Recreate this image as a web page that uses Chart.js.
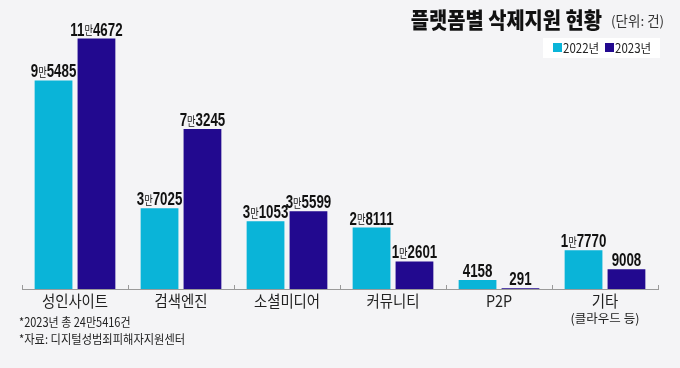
<!DOCTYPE html>
<html>
<head>
<meta charset="utf-8">
<script src="https://cdn.jsdelivr.net/npm/chart.js@4"></script>
<style>
  html, body { margin: 0; padding: 0; background: #f4f4f6; }
  #wrap { width: 680px; height: 368px; }
</style>
</head>
<body>
<div id="wrap"><canvas id="platformChart" width="680" height="368"></canvas></div>
<script>
// data
var categories = ["성인사이트", "검색엔진", "소셜미디어", "커뮤니티", "P2P", "기타"];
var subLabels = ["", "", "", "", "", "(클라우드 등)"];
var values2022 = [95485, 37025, 31053, 28111, 4158, 17770];
var values2023 = [114672, 73245, 35599, 12601, 291, 9008];
var seriesNames = ["2022년", "2023년"];
var notes = ["*2023년 총 24만5416건", "*자료: 디지털성범죄피해자지원센터"];

var CYAN = "#0ab4d8";
var NAVY = "#22098f";
var KR = '"Noto Sans CJK KR", "Noto Sans", sans-serif';
var NUM = '"Liberation Sans", Arial, sans-serif';

// split 95485 -> ["9", "만", "5485"]
function splitValue(v) {
  if (v < 10000) return ["", "", String(v)];
  var man = Math.floor(v / 10000);
  var rest = String(v % 10000).padStart(4, "0");
  return [String(man), "만", rest];
}

// draw text squeezed horizontally (sx < 1), anchored by textAlign
function squeezed(ctx, text, x, y, sx) {
  ctx.save();
  ctx.translate(x, y);
  ctx.scale(sx, 1);
  ctx.fillText(text, 0, 0);
  ctx.restore();
}

var textPlugin = {
  id: "textPlugin",
  afterDatasetsDraw: function (chart) {
    var ctx = chart.ctx;
    var area = chart.chartArea;
    var xScale = chart.scales.x;
    ctx.save();

    // axis line + small upward ticks
    ctx.strokeStyle = "#9a9a9a";
    ctx.lineWidth = 1;
    ctx.beginPath();
    ctx.moveTo(area.left, area.bottom + 0.5);
    ctx.lineTo(area.right, area.bottom + 0.5);
    var step = (area.right - area.left) / categories.length;
    for (var i = 0; i <= categories.length; i++) {
      var tx = Math.round(area.left + step * i) + 0.5;
      ctx.moveTo(tx, area.bottom - 4);
      ctx.lineTo(tx, area.bottom + 1);
    }
    ctx.stroke();

    // value labels
    var sx = 0.74;
    chart.data.datasets.forEach(function (ds, di) {
      var meta = chart.getDatasetMeta(di);
      meta.data.forEach(function (bar, i) {
        var parts = splitValue(ds.data[i]);
        var fonts = ["bold 18px " + NUM, "12.5px " + KR, "bold 18px " + NUM];
        var widths = parts.map(function (p, k) {
          ctx.font = fonts[k];
          return ctx.measureText(p).width * sx;
        });
        var total = widths[0] + widths[1] + widths[2];
        var x = bar.x - total / 2;
        var y = bar.y - 3;
        ctx.fillStyle = "#111";
        ctx.textBaseline = "alphabetic";
        ctx.textAlign = "left";
        parts.forEach(function (p, k) {
          ctx.font = fonts[k];
          squeezed(ctx, p, x, k === 1 ? y - 0.5 : y, sx);
          x += widths[k];
        });
      });
    });

    // category labels
    ctx.textAlign = "center";
    ctx.textBaseline = "middle";
    ctx.fillStyle = "#222";
    categories.forEach(function (c, i) {
      var cx = xScale.getPixelForValue(i);
      ctx.font = "16px " + KR;
      squeezed(ctx, c, cx, 301, 0.9);
      if (subLabels[i]) {
        ctx.font = "12.5px " + KR;
        ctx.fillText(subLabels[i], cx, 318);
      }
    });

    // notes
    ctx.textAlign = "left";
    ctx.font = "12.5px " + KR;
    ctx.fillStyle = "#222";
    squeezed(ctx, notes[0], 19, 322, 0.88);
    squeezed(ctx, notes[1], 19, 339, 0.9);

    // title
    ctx.textAlign = "right";
    ctx.font = "900 22px " + KR;
    ctx.fillStyle = "#111";
    squeezed(ctx, "플랫폼별 삭제지원 현황", 602, 20, 0.9);
    ctx.textAlign = "left";
    ctx.font = "13.5px " + KR;
    ctx.fillStyle = "#333";
    ctx.fillText("(단위: 건)", 611, 21);

    // legend box
    ctx.fillStyle = "#ffffff";
    ctx.fillRect(543, 38, 117, 20);
    var lx = 553;
    chart.data.datasets.forEach(function (ds) {
      ctx.fillStyle = ds.backgroundColor;
      ctx.fillRect(lx, 43, 9, 9);
      ctx.fillStyle = "#222";
      ctx.font = "12.5px " + KR;
      ctx.textBaseline = "middle";
      squeezed(ctx, ds.label, lx + 10, 48, 0.92);
      lx += 52;
    });

    ctx.restore();
  }
};

var ctx = document.getElementById("platformChart").getContext("2d");
var platformChart = new Chart(ctx, {
  type: "bar",
  data: {
    labels: categories,
    datasets: [
      { label: seriesNames[0], data: values2022, backgroundColor: CYAN },
      { label: seriesNames[1], data: values2023, backgroundColor: NAVY },
    ],
  },
  options: {
    responsive: false,
    animation: false,
    devicePixelRatio: 1,
    layout: { padding: { left: 22, right: 22, top: 16, bottom: 79 } },
    datasets: { bar: { categoryPercentage: 0.81, barPercentage: 0.88 } },
    scales: {
      x: { display: false },
      y: { display: false, min: 0, max: 125000 },
    },
    plugins: {
      legend: { display: false },
      tooltip: { enabled: false },
    },
  },
  plugins: [textPlugin],
});
</script>
</body>
</html>
